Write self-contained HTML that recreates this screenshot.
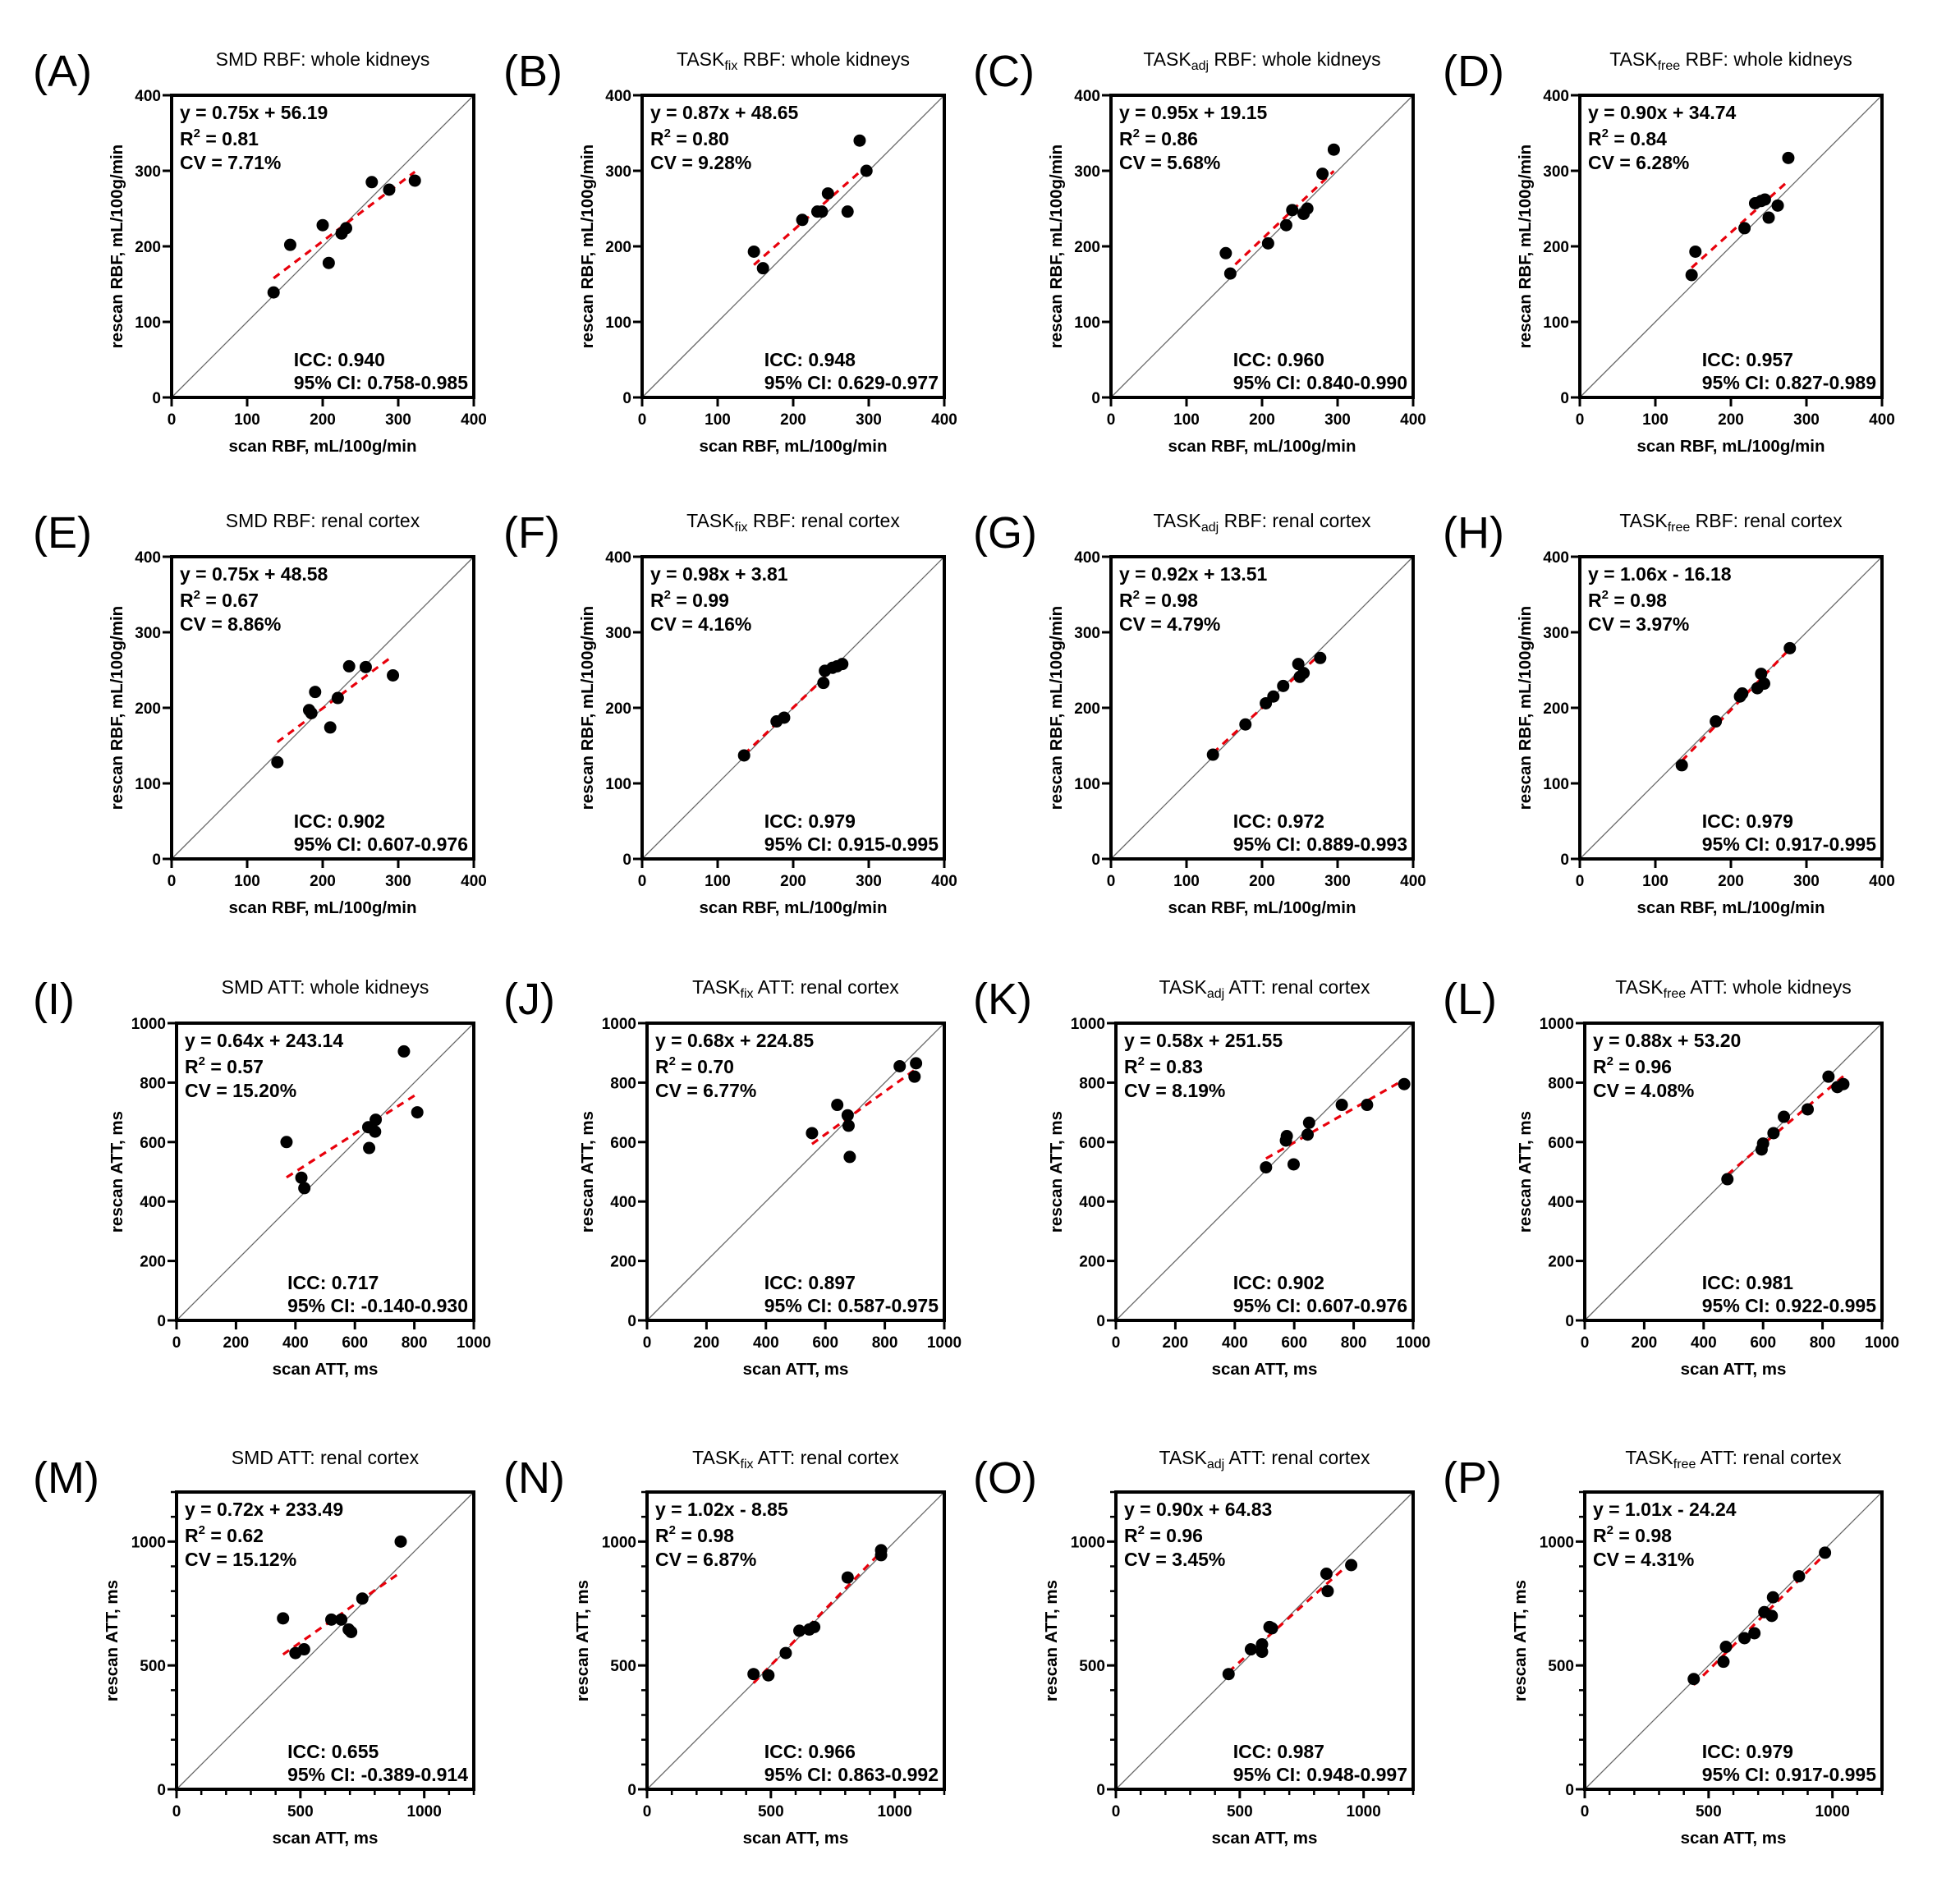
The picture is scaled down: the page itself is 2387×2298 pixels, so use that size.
<!DOCTYPE html>
<html><head><meta charset="utf-8"><style>
html,body{margin:0;padding:0;background:#fff;}
svg{display:block;font-family:"Liberation Sans",Arial,sans-serif;}
</style></head><body>
<svg id="fig" width="2387" height="2298" viewBox="0 0 2387 2298" xmlns="http://www.w3.org/2000/svg"></svg>
<script>
// ---- data arrays (scan, rescan) ----
const labels = ["A","B","C","D","E","F","G","H","I","J","K","L","M","N","O","P"];
const methods = ["SMD","TASK|fix","TASK|adj","TASK|free","SMD","TASK|fix","TASK|adj","TASK|free","SMD","TASK|fix","TASK|adj","TASK|free","SMD","TASK|fix","TASK|adj","TASK|free"];
const subtitles = ["RBF: whole kidneys","RBF: whole kidneys","RBF: whole kidneys","RBF: whole kidneys",
 "RBF: renal cortex","RBF: renal cortex","RBF: renal cortex","RBF: renal cortex",
 "ATT: whole kidneys","ATT: renal cortex","ATT: renal cortex","ATT: whole kidneys",
 "ATT: renal cortex","ATT: renal cortex","ATT: renal cortex","ATT: renal cortex"];
const eqs = ["y = 0.75x + 56.19","y = 0.87x + 48.65","y = 0.95x + 19.15","y = 0.90x + 34.74",
 "y = 0.75x + 48.58","y = 0.98x + 3.81","y = 0.92x + 13.51","y = 1.06x - 16.18",
 "y = 0.64x + 243.14","y = 0.68x + 224.85","y = 0.58x + 251.55","y = 0.88x + 53.20",
 "y = 0.72x + 233.49","y = 1.02x - 8.85","y = 0.90x + 64.83","y = 1.01x - 24.24"];
const r2s = ["0.81","0.80","0.86","0.84","0.67","0.99","0.98","0.98","0.57","0.70","0.83","0.96","0.62","0.98","0.96","0.98"];
const cvs = ["7.71%","9.28%","5.68%","6.28%","8.86%","4.16%","4.79%","3.97%","15.20%","6.77%","8.19%","4.08%","15.12%","6.87%","3.45%","4.31%"];
const iccs = ["0.940","0.948","0.960","0.957","0.902","0.979","0.972","0.979","0.717","0.897","0.902","0.981","0.655","0.966","0.987","0.979"];
const cis = ["0.758-0.985","0.629-0.977","0.840-0.990","0.827-0.989","0.607-0.976","0.915-0.995","0.889-0.993","0.917-0.995",
 "-0.140-0.930","0.587-0.975","0.607-0.976","0.922-0.995","-0.389-0.914","0.863-0.992","0.948-0.997","0.917-0.995"];
const scanA=[135,157,200,208,225,231,265,288,322], rescanA=[139,202,228,178,217,224,285,275,287];
const scanB=[148,160,212,232,238,246,272,288,297], rescanB=[193,171,235,246,246,270,246,340,300];
const scanC=[152,158,208,232,240,255,260,280,295], rescanC=[191,164,204,228,248,243,250,296,328];
const scanD=[148,153,218,232,240,245,250,262,276], rescanD=[162,193,224,257,260,262,238,254,317];
const scanE=[140,182,185,190,210,220,235,257,293], rescanE=[128,197,193,221,174,213,255,254,243];
const scanF=[135,178,188,240,242,252,258,265], rescanF=[137,182,187,233,249,253,255,258];
const scanG=[135,178,205,215,228,248,250,255,277], rescanG=[138,178,206,215,229,258,241,246,266];
const scanH=[135,180,212,215,235,240,244,278], rescanH=[124,182,215,219,226,245,232,279];
const scanI=[370,420,430,645,648,668,670,765,810], rescanI=[600,480,445,650,580,635,675,905,700];
const scanJ=[555,640,675,678,682,850,900,905], rescanJ=[630,725,690,655,550,855,820,865];
const scanK=[505,572,575,598,645,650,760,845,970], rescanK=[515,605,620,525,625,665,725,725,795];
const scanL=[480,595,600,635,670,750,820,850,870], rescanL=[475,575,595,630,685,710,820,785,795];
const scanM=[430,480,515,625,665,695,705,750,905], rescanM=[690,550,565,685,685,645,635,770,1000];
const scanN=[430,490,560,615,655,675,810,945,945], rescanN=[465,460,550,640,645,655,855,965,945];
const scanO=[455,545,590,590,620,630,850,855,950], rescanO=[465,565,555,585,655,650,870,800,905];
const scanP=[440,560,570,645,685,725,755,760,865,970], rescanP=[445,515,575,610,630,715,700,775,860,955];
const scans=[scanA,scanB,scanC,scanD,scanE,scanF,scanG,scanH,scanI,scanJ,scanK,scanL,scanM,scanN,scanO,scanP];
const rescans=[rescanA,rescanB,rescanC,rescanD,rescanE,rescanF,rescanG,rescanH,rescanI,rescanJ,rescanK,rescanL,rescanM,rescanN,rescanO,rescanP];
const ticksRBF=[0,100,200,300,400];
const ticksATT=[0,200,400,600,800,1000];
const ticksATT2=[0,500,1000];

const NS="http://www.w3.org/2000/svg";
const svg=document.getElementById("fig");
function el(tag,attrs,parent,text){const e=document.createElementNS(NS,tag);for(const k in attrs)e.setAttribute(k,attrs[k]);if(text!==undefined)e.textContent=text;(parent||svg).appendChild(e);return e;}

const colL12=[209,782,1353,1924], colL34=[215,788,1359,1930];
const rowT=[116,678,1246,1817];
const xLabelCols=[40,613,1185,1757];
const titleY=[80,642,1210,1783];
const labelY=[105,667,1235,1818];

for(let i=0;i<16;i++){
  const r=Math.floor(i/4), c=i%4;
  const L=(r<2?colL12:colL34)[c], S=(r<2?368:362), T=rowT[r], B=T+S, R=L+S;
  const max=r<2?400:(r<3?1000:1200);
  const ticks=r<2?ticksRBF:(r<3?ticksATT:ticksATT2);
  const X=v=>L+v/max*S, Y=v=>B-v/max*S;
  const g=el("g",{});
  
  
  const pl=el("text",{x:xLabelCols[c],y:labelY[r],"font-size":54},g,"("+labels[i]+")");
  
  
  const [m,sub]=methods[i].split("|");
  const tt=el("text",{x:L+S/2,y:titleY[r],"font-size":23,"text-anchor":"middle"},g);
  
  
  el("tspan",{},tt,m);
  if(sub){el("tspan",{"font-size":16,dy:5},tt,sub);el("tspan",{dy:-5},tt," "+subtitles[i]);}
  else el("tspan",{},tt," "+subtitles[i]);
  const dg=el("line",{x1:L,y1:B,x2:R,y2:T,stroke:"#666","stroke-width":1.3},g);
  
  
  const fr=el("rect",{x:L,y:T,width:S,height:S,fill:"none",stroke:"#000","stroke-width":4},g);
  
  
  const minor = r===3 ? 100 : null;
  if(minor){for(let v=0;v<=max;v+=minor){
    el("line",{x1:X(v),y1:B,x2:X(v),y2:B+7,stroke:"#000","stroke-width":2.5},g);
    el("line",{x1:L,y1:Y(v),x2:L-7,y2:Y(v),stroke:"#000","stroke-width":2.5},g);}}
  ticks.forEach(v=>{
    el("line",{x1:X(v),y1:B,x2:X(v),y2:B+11,stroke:"#000","stroke-width":3},g);
    el("line",{x1:L,y1:Y(v),x2:L-11,y2:Y(v),stroke:"#000","stroke-width":3},g);
    const xt=el("text",{x:X(v),y:B+33,"font-size":19,"font-weight":"bold","text-anchor":"middle"},g,String(v));
    
    
    const yt=el("text",{x:L-13,y:Y(v)+7,"font-size":19,"font-weight":"bold","text-anchor":"end"},g,String(v));
    
    
  });
  const isRBF=r<2;
  const xtitle=el("text",{x:L+S/2,y:B+66,"font-size":20.5,"font-weight":"bold","text-anchor":"middle"},g,isRBF?"scan RBF, mL/100g/min":"scan ATT, ms");
  
  
  const yx=L-(isRBF?60:(r===3?72:66)), yy=T+S/2;
  const ytitle=el("text",{x:yx,y:yy,"font-size":20.5,"font-weight":"bold","text-anchor":"middle",transform:`rotate(-90 ${yx} ${yy})`},g,isRBF?"rescan RBF, mL/100g/min":"rescan ATT, ms");
  
  
  const xs=scans[i], ys=rescans[i], n=xs.length;
  const mx=xs.reduce((a,b)=>a+b)/n, my=ys.reduce((a,b)=>a+b)/n;
  let sxy=0,sxx=0;for(let k=0;k<n;k++){sxy+=(xs[k]-mx)*(ys[k]-my);sxx+=(xs[k]-mx)**2;}
  const sl=sxy/sxx, ic=my-sl*mx, x0=Math.min(...xs), x1=Math.max(...xs);
  const fit=el("line",{x1:X(x0),y1:Y(ic+sl*x0),x2:X(x1),y2:Y(ic+sl*x1),stroke:"#e8000b","stroke-width":3.2,"stroke-dasharray":"9 7"},g);
  
  
  for(let k=0;k<n;k++){
    const p=el("circle",{cx:X(xs[k]),cy:Y(ys[k]),r:7.5,fill:"#000"},g);
    
    
  }
  const a1=el("text",{x:L+10,y:T+29,"font-size":23,"font-weight":"bold"},g,eqs[i]);
  
  
  const a2=el("text",{x:L+10,y:T+61,"font-size":23,"font-weight":"bold"},g);
  
  
  el("tspan",{},a2,"R");el("tspan",{"font-size":15,dy:-10},a2,"2");el("tspan",{dy:10},a2," = "+r2s[i]);
  const a3=el("text",{x:L+10,y:T+90,"font-size":23,"font-weight":"bold"},g,"CV = "+cvs[i]);
  
  
  const a4=el("text",{x:L+S-7,y:B-38,"font-size":23,"font-weight":"bold","text-anchor":"end"},g,"ICC: "+iccs[i]);
  
  
  const a5=el("text",{x:L+S-7,y:B-10,"font-size":23,"font-weight":"bold","text-anchor":"end"},g,"95% CI: "+cis[i]);
  
  
  const bb=a5.getBBox(); a4.setAttribute("text-anchor","start"); a4.setAttribute("x",bb.x);
}
</script>
</body></html>
